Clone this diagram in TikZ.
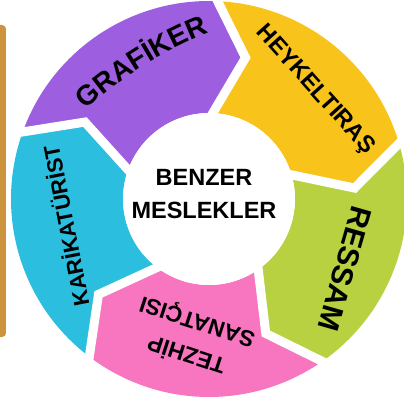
\documentclass[tikz,border=0pt]{standalone}
\usepackage{fontspec}
\setmainfont{Liberation Sans}
\usetikzlibrary{calc,decorations.text}
\definecolor{grafcol}{RGB}{157,94,224}
\definecolor{heykcol}{RGB}{248,195,26}
\definecolor{resscol}{RGB}{183,209,64}
\definecolor{tezcol}{RGB}{248,117,192}
\definecolor{karcol}{RGB}{43,190,222}
\definecolor{barcol}{RGB}{205,148,62}
\begin{document}
\begin{tikzpicture}[x=1pt, y=1pt, line join=miter,
    gap/.style={draw=white, line width=9pt},
    ringtext/.style 2 args={font=\bfseries\fontsize{#1}{#2}\selectfont, inner sep=0pt, align=center}]
    \useasboundingbox (-209,-202) rectangle (195,199);
    % ring of arrows, clockwise
    \foreach \a/\b/\c in {160.2/87.5/grafcol, 87.5/16.3/heykcol, 16.3/-55.1/resscol, -55.1/-127.2/tezcol, -127.2/-199.8/karcol}
    \fill[\c] (\a:198) arc[start angle=\a, end angle=\b, radius=198] -- ({\b-12}:146) -- (\b:86)
        arc[start angle=\b, end angle=\a, radius=86] -- ({\a-12}:146) -- cycle;
    \foreach \p in {87.5,16.3,-55.1,-127.2,160.2}{
        \path (\p:198) coordinate (o) ({\p-12}:146) coordinate (t) (\p:86) coordinate (i);
        \draw[gap] ($(t)!1.15!(o)$) -- (t) -- ($(t)!1.3!(i)$);
    }
    \fill[barcol, rounded corners=4pt] (-222,174) rectangle (-203,-138);
    \node[circle, fill=white, minimum size=172pt, inner sep=0pt] (hub) at (0,0) {};
    \node[ringtext={23.5}{33}] (title) at (-5,5) {BENZER\\MESLEKLER};
    \coordinate (gc) at (147,-206);
    \path[decorate, decoration={text along path, text align=center,
        text={|\bfseries\fontsize{28}{28}\selectfont|GRAFİKER}}]
        ($(gc)+(134:400)$) arc[start angle=134, end angle=110, radius=400];
    \node[ringtext={23.5}{23.5}, rotate=-48] (heykel) at (106,109) {HEYKELTIRAŞ};
    \node[ringtext={30}{30}, rotate=-106] (ressam) at (136,-70) {RESSAM};
    \node[ringtext={22.5}{34}, rotate=162] (tezhip) at (-17,-139) {TEZHİP\\SANATÇISI};
    \node[ringtext={22}{22}, rotate=101] (karikat) at (-144,-27) {KARİKATÜRİST};
\end{tikzpicture}
\end{document}
